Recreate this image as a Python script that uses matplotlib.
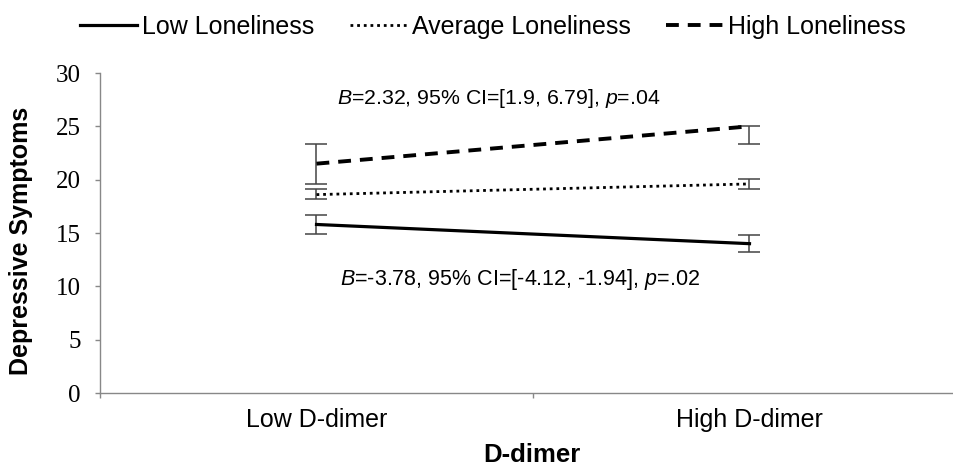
import matplotlib
matplotlib.use("Agg")
import matplotlib.pyplot as plt
from matplotlib.lines import Line2D

categories = ["Low D-dimer", "High D-dimer"]
series_names = ["Low Loneliness", "Average Loneliness", "High Loneliness"]
low_values = [15.8, 14.0]
avg_values = [18.6, 19.6]
high_values = [21.5, 25.0]
low_err_lower = [0.85, 0.75]
low_err_upper = [0.85, 0.85]
avg_err_lower = [0.45, 0.5]
avg_err_upper = [0.5, 0.45]
high_err_lower = [1.9, 1.7]
high_err_upper = [1.8, 0.0]
yticks = [0, 5, 10, 15, 20, 25, 30]
annot_high = "$\\it{B}$=2.32, 95% CI=[1.9, 6.79], $\\it{p}$=.04"
annot_low = "$\\it{B}$=-3.78, 95% CI=[-4.12, -1.94], $\\it{p}$=.02"

plt.rcParams["mathtext.fontset"] = "custom"
plt.rcParams["mathtext.it"] = "Liberation Sans:italic"
plt.rcParams["mathtext.rm"] = "Liberation Sans"

fig = plt.figure(figsize=(9.54, 4.67), dpi=100)
W, H = 954, 467
left, right = 100, 966
top, bottom = 73, 393
ax = fig.add_axes([left / W, (H - bottom) / H, (right - left) / W, (bottom - top) / H])

xpos = [0.5, 1.5]
styles = [("-", 2.3), ((0, (1, 1.4)), 2.0), ((0, (3.3, 2.3)), 2.8)]
vals = [low_values, avg_values, high_values]
errs = [(low_err_lower, low_err_upper), (avg_err_lower, avg_err_upper), (high_err_lower, high_err_upper)]
for (ls, lw), v, (el, eu) in zip(styles, vals, errs):
    ax.errorbar(xpos, v, yerr=[el, eu], fmt="none", ecolor="#444444", elinewidth=1.1,
                capsize=8, capthick=1.1, zorder=2)
    ax.plot(xpos, v, color="black", linestyle=ls, linewidth=lw, zorder=3)

ax.set_xlim(0, 2)
ax.set_ylim(0, 30)
ax.set_yticks(yticks)
ax.set_yticklabels([str(t) for t in yticks], family="Liberation Serif", fontsize=18)
ax.set_xticks([0, 1, 2])
ax.set_xticklabels([])
ax.set_xticks(xpos, minor=True)
ax.set_xticklabels(categories, minor=True, family="Liberation Sans", fontsize=18)
ax.tick_params(axis="x", which="minor", length=0, pad=11)
ax.tick_params(axis="both", which="major", length=3.8, color="#888888", width=1)
ax.tick_params(axis="y", pad=10)
for s in ["top", "right"]:
    ax.spines[s].set_visible(False)
for s in ["left", "bottom"]:
    ax.spines[s].set_color("#888888")
    ax.spines[s].set_linewidth(1)

ax.set_ylabel("Depressive Symptoms", family="Liberation Sans", fontweight="bold", fontsize=18)
ax.yaxis.set_label_coords(-0.077, 0.475)
fig.text(532 / W, 1 - 455 / H, "D-dimer", family="Liberation Sans", fontweight="bold",
         fontsize=18.5, ha="center", va="center")

ax.text(0.548, 27.6, annot_high, family="Liberation Sans", fontsize=15.3, va="center", ha="left")
ax.text(0.554, 10.6, annot_low, family="Liberation Sans", fontsize=15.5, va="center", ha="left")

handles = [Line2D([], [], color="black", linestyle=ls, linewidth=lw) for ls, lw in styles]
fig.legend(handles, series_names, loc="center", bbox_to_anchor=(493 / W, 1 - 27 / H), ncol=3,
           frameon=False, prop={"family": "Liberation Sans", "size": 18}, handlelength=2.3,
           handletextpad=0.2, columnspacing=1.4)

fig.savefig("out.png", dpi=100)
